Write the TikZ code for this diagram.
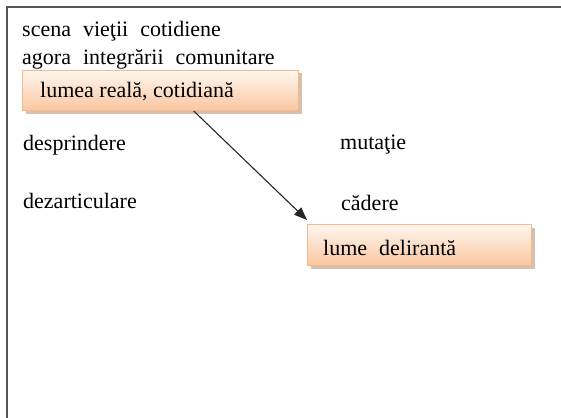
\documentclass[tikz,border=0pt]{standalone}
\usepackage{fontspec}
\setmainfont{Liberation Serif}
\usetikzlibrary{arrows.meta,shadows,calc}
\definecolor{boxtop}{HTML}{FFF7F0}
\definecolor{boxbot}{HTML}{FAC6A0}
\definecolor{boxline}{HTML}{F7B88A}
\definecolor{shadowcol}{HTML}{B88A6A}
\definecolor{framecol}{HTML}{555555}
\newcommand{\wsp}{\hspace{12pt}}
\tikzset{
  lbl/.style={anchor=base west, inner sep=0pt, font=\fontsize{22}{26}\selectfont, text=black},
  peachbox/.style={draw=boxline, line width=1pt, top color=boxtop, bottom color=boxbot,
    drop shadow={shadow xshift=3pt, shadow yshift=-3pt, fill=shadowcol, opacity=0.55}},
  conn/.style={-{Triangle[length=13pt,width=10pt]}, line width=1.1pt, draw=black!85}
}
\begin{document}
\begin{tikzpicture}[x=1pt,y=-1pt]
\useasboundingbox (0,0) rectangle (561,417);
% frame (open at right and bottom)
\draw[framecol, line width=2pt] (562,7) -- (6.5,7) -- (6.5,418);
% boxes
\node[peachbox, minimum width=276pt, minimum height=40pt, anchor=north west, inner sep=0pt] (b1) at (22,70) {};
\node[peachbox, minimum width=224pt, minimum height=41pt, anchor=north west, inner sep=0pt] (b2) at (307,224) {};
% texts
\node[lbl] (t1) at (22,37) {scena\wsp vieţii\wsp cotidiene};
\node[lbl] (t2) at (22,65) {agora\wsp integrării\wsp comunitare};
\node[lbl] (t3) at (40,97) {lumea reală, cotidiană};
\node[lbl] (t4) at (23,150) {desprindere};
\node[lbl] (t5) at (23,208) {dezarticulare};
\node[lbl] (t6) at (340,149) {mutaţie};
\node[lbl] (t7) at (341,210) {cădere};
\node[lbl] (t8) at (323,255) {lume\wsp delirantă};
% connector
\coordinate (s) at ($(b1.south west)!0.62!(b1.south east)$);
\coordinate (e) at ([yshift=4pt]b2.north west);
\draw[conn] (s) -- (e);
\end{tikzpicture}
\end{document}
